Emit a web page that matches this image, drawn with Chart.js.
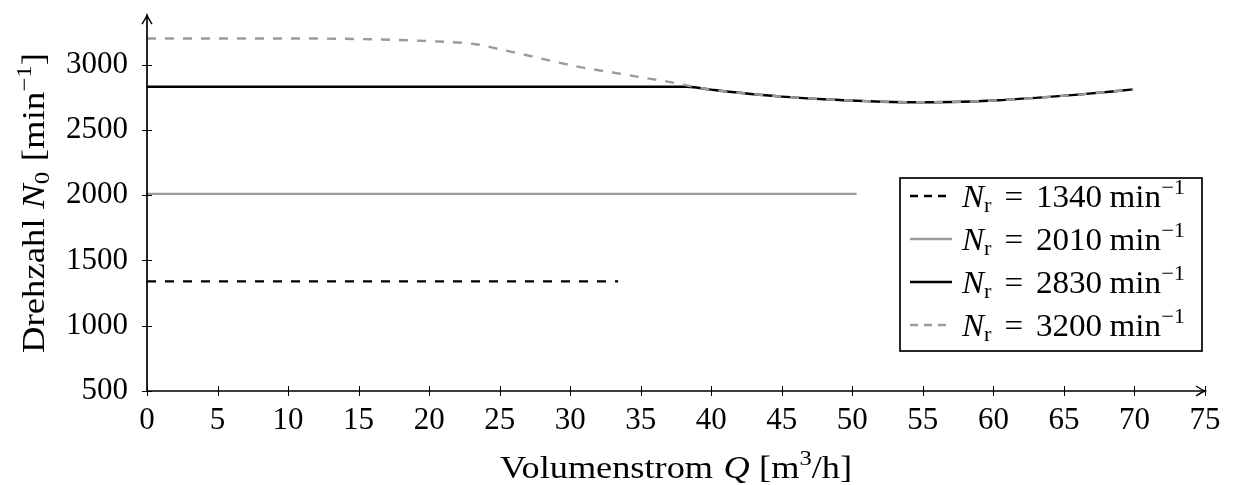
<!DOCTYPE html>
<html>
<head>
<meta charset="utf-8">
<script src="https://cdn.jsdelivr.net/npm/chart.js@4.4.1/dist/chart.umd.min.js"></script>
<style>
  html, body { margin: 0; padding: 0; background: #fff; }
</style>
</head>
<body>
<canvas id="drehzahlChart" width="1234" height="485"></canvas>
<script>
// Volumenstrom Q [m3/h] -> Drehzahl N0 [1/min], one pair of arrays per curve
var q1340 = [0, 33.4];
var n1340 = [1340, 1340];
var q2010 = [0, 50.3];
var n2010 = [2010, 2010];
var q2830 = [0, 38.3, 40, 42, 45, 48, 51, 54, 57, 60, 63, 66, 69.9];
var n2830 = [2830, 2830, 2808, 2784, 2755, 2735, 2720, 2712, 2714, 2725, 2745, 2770, 2810];
var q3200 = [0, 5, 10, 15, 20, 23.3, 25, 27, 29, 31, 33, 35, 37, 38.6, 40, 42, 45, 48, 51, 54, 57, 60, 63, 66, 69.9];
var n3200 = [3200, 3200, 3200, 3196, 3180, 3156, 3118, 3070, 3020, 2975, 2940, 2903, 2868, 2834, 2808, 2784, 2755, 2735, 2720, 2712, 2714, 2725, 2745, 2770, 2810];
var nennDrehzahl = ['1340', '2010', '2830', '3200'];
var xTicks = [0, 5, 10, 15, 20, 25, 30, 35, 40, 45, 50, 55, 60, 65, 70, 75];
var yTicks = [500, 1000, 1500, 2000, 2500, 3000];

var GRAU = '#9b9b9b';
var SERIF = '"Liberation Serif", "Times New Roman", serif';

function pts(qs, ns) {
    return qs.map(function (q, i) { return { x: q, y: ns[i] }; });
}

var styles = [
    { color: '#000', dash: [9, 9] },
    { color: GRAU, dash: [] },
    { color: '#000', dash: [] },
    { color: GRAU, dash: [9, 9] }
];

// draws pieces of text one after another (italic, sub/superscript)
function richText(ctx, parts, x, y, draw) {
    var cx = x;
    parts.forEach(function (p) {
        ctx.font = (p.italic ? 'italic ' : '') + (p.size || 31) + 'px ' + SERIF;
        if (draw) ctx.fillText(p.t, cx, y + (p.dy || 0));
        cx += ctx.measureText(p.t).width + (p.gap || 0);
    });
    return cx - x;
}

// stretch horizontally to a given width, starting at x (palatino is wider than times)
function stretchedText(ctx, parts, x, y, target) {
    var w = richText(ctx, parts, 0, 0, false);
    ctx.save();
    ctx.translate(x, y);
    ctx.scale(target / w, 1);
    richText(ctx, parts, 0, 0, true);
    ctx.restore();
}

var achsenPlugin = {
    id: 'achsen',
    afterDraw: function (chart) {
        var ctx = chart.ctx;
        var xs = chart.scales.x, ys = chart.scales.y;
        var x0 = xs.getPixelForValue(xs.min), y0 = ys.getPixelForValue(ys.min);
        var x1 = xs.getPixelForValue(xs.max), y1 = ys.getPixelForValue(ys.max);
        ctx.save();
        ctx.strokeStyle = '#000';
        ctx.fillStyle = '#000';

        // tick marks crossing the axes
        ctx.lineWidth = 1;
        xTicks.forEach(function (v) {
            var p = Math.round(xs.getPixelForValue(v)) + 0.5;
            ctx.beginPath(); ctx.moveTo(p, y0 - 5); ctx.lineTo(p, y0 + 5); ctx.stroke();
        });
        yTicks.forEach(function (v) {
            var p = Math.round(ys.getPixelForValue(v)) + 0.5;
            ctx.beginPath(); ctx.moveTo(x0 - 5, p); ctx.lineTo(x0 + 5, p); ctx.stroke();
        });

        // axis lines with arrow heads
        ctx.lineWidth = 1.7;
        ctx.beginPath();
        ctx.moveTo(x0, y0); ctx.lineTo(x1, y0);
        ctx.moveTo(x0, y0); ctx.lineTo(x0, y1);
        ctx.stroke();
        ctx.lineWidth = 1.4;
        ctx.beginPath();
        ctx.moveTo(x1 - 9, y0 - 5); ctx.quadraticCurveTo(x1 - 3, y0 - 1, x1, y0);
        ctx.quadraticCurveTo(x1 - 3, y0 + 1, x1 - 9, y0 + 5);
        ctx.moveTo(x0 - 5, y1 + 9); ctx.quadraticCurveTo(x0 - 1, y1 + 3, x0, y1);
        ctx.quadraticCurveTo(x0 + 1, y1 + 3, x0 + 5, y1 + 9);
        ctx.stroke();

        // axis titles
        ctx.textBaseline = 'alphabetic';
        ctx.textAlign = 'left';
        stretchedText(ctx, [
            { t: 'Volumenstrom', gap: 9 },
            { t: 'Q', italic: true, gap: 8 },
            { t: '[m' },
            { t: '3', size: 21, dy: -13 },
            { t: '/h]' }
        ], (x0 + x1) / 2 - 176, 478, 352);

        ctx.save();
        ctx.translate(44, 203);
        ctx.rotate(-Math.PI / 2);
        stretchedText(ctx, [
            { t: 'Drehzahl', gap: 8 },
            { t: 'N', italic: true },
            { t: '0', size: 21, dy: 5, gap: 9 },
            { t: '[min' },
            { t: '\u22121', size: 21, dy: -13 },
            { t: ']' }
        ], -150, 0, 300);
        ctx.restore();

        // legend box
        var lx = 900, ly = 178, lw = 302, lh = 173;
        ctx.fillStyle = '#fff';
        ctx.fillRect(lx, ly, lw, lh);
        ctx.lineWidth = 1.7;
        ctx.strokeRect(lx, ly, lw, lh);
        ctx.fillStyle = '#000';
        nennDrehzahl.forEach(function (n, i) {
            var base = 207 + i * 43;
            ctx.strokeStyle = styles[i].color;
            ctx.setLineDash(styles[i].dash.length ? [8, 6] : []);
            ctx.lineWidth = 2.4;
            ctx.beginPath(); ctx.moveTo(910, base - 11); ctx.lineTo(952, base - 11); ctx.stroke();
            ctx.setLineDash([]);
            stretchedText(ctx, [
                { t: 'N', italic: true },
                { t: 'r', size: 21, dy: 5, gap: 12 },
                { t: '=', gap: 12 },
                { t: n, gap: 7 },
                { t: 'min' },
                { t: '\u22121', size: 21, dy: -13 }
            ], 962, base, 223);
        });
        ctx.restore();
    }
};

var reihen = [[q1340, n1340], [q2010, n2010], [q2830, n2830], [q3200, n3200]];
var datasets = reihen.map(function (r, i) {
    return {
        label: 'N_r = ' + nennDrehzahl[i] + ' min^-1',
        data: pts(r[0], r[1]),
        borderColor: styles[i].color,
        borderDash: styles[i].dash,
        borderWidth: 2.4,
        pointRadius: 0,
        fill: false,
        cubicInterpolationMode: 'monotone',
        order: i === 3 ? 0 : 1
    };
});

var tickFont = { family: SERIF, size: 31, lineHeight: 1 };
function plain(v) { return String(v); }

new Chart(document.getElementById('drehzahlChart').getContext('2d'), {
    type: 'line',
    data: { datasets: datasets },
    options: {
        responsive: false,
        animation: false,
        layout: { padding: { left: 0, top: 15, right: 29, bottom: 0 } },
        plugins: { legend: { display: false }, tooltip: { enabled: false } },
        scales: {
            x: {
                type: 'linear',
                min: 0,
                max: 75,
                afterBuildTicks: function (s) { s.ticks = xTicks.map(function (v) { return { value: v }; }); },
                afterFit: function (s) { s.height = 94; s.paddingLeft = 0; s.paddingRight = 0; },
                grid: { display: false, drawTicks: false },
                border: { display: false },
                ticks: { font: tickFont, color: '#000', padding: 14, maxRotation: 0, autoSkip: false, callback: plain }
            },
            y: {
                min: 500,
                max: 3380,
                afterBuildTicks: function (s) { s.ticks = yTicks.map(function (v) { return { value: v }; }); },
                afterFit: function (s) { s.width = 147; s.paddingTop = 0; s.paddingBottom = 0; },
                grid: { display: false, drawTicks: false },
                border: { display: false },
                ticks: { font: tickFont, color: '#000', padding: 19, autoSkip: false, callback: plain }
            }
        }
    },
    plugins: [achsenPlugin]
});
</script>
</body>
</html>
